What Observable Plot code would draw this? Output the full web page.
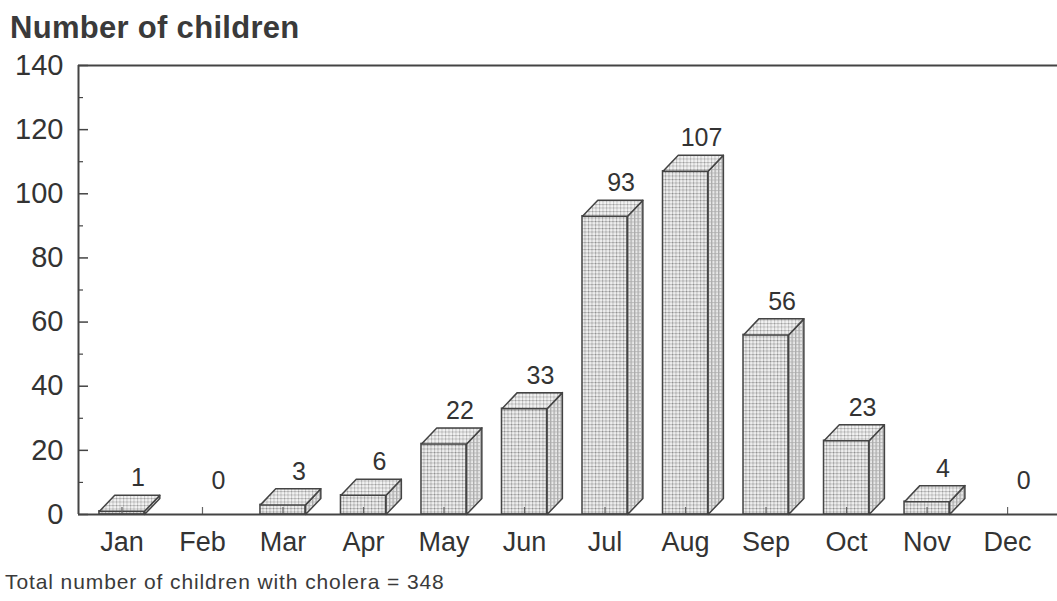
<!DOCTYPE html>
<html><head><meta charset="utf-8">
<script src="https://cdn.jsdelivr.net/npm/d3@7"></script>
<script src="https://cdn.jsdelivr.net/npm/@observablehq/plot@0.6"></script>
<style>
body{margin:0;background:#fff;font-family:"Liberation Sans",Arial,sans-serif;color:#333;}
#title{height:46px;box-sizing:border-box;padding:9px 0 0 10px;font-size:31px;font-weight:bold;line-height:37px;color:#3a3a3a;letter-spacing:0.3px;}
#chart svg{display:block;}
#caption{margin-top:6px;padding-left:5px;font-size:21px;line-height:24px;color:#3a3a3a;letter-spacing:0.9px;}
</style></head><body>
<div id="title">Number of children</div>
<div id="chart"></div>
<div id="caption">Total number of children with cholera = 348</div>
<script>
// ---- data ----
const months = ["Jan","Feb","Mar","Apr","May","Jun","Jul","Aug","Sep","Oct","Nov","Dec"];
const counts = [1, 0, 3, 6, 22, 33, 93, 107, 56, 23, 4, 0];
const yTicks = [0, 20, 40, 60, 80, 100, 120, 140];
const yMinorTicks = [10, 30, 50, 70, 90, 110, 130];
const monthIndex = months.map((m, i) => i);

// ---- geometry (in data units) ----
const halfW = 0.28, depthX = 0.19, depthY = 5;
const bars = months.map((m, i) => ({i, m, v: counts[i]}));
const drawn = bars.filter(d => d.v > 0);
const front = drawn.map(d => ({id: d.m, x1: d.i - halfW, x2: d.i + halfW, y1: 0, y2: d.v}));
const side = [], topFace = [];
for (const d of drawn) {
  const l = d.i - halfW, r = d.i + halfW;
  [[r, 0], [r, d.v], [r + depthX, d.v + depthY], [r + depthX, depthY], [r, 0]]
    .forEach(([x, y]) => side.push({id: d.m, x, y}));
  [[l, d.v], [r, d.v], [r + depthX, d.v + depthY], [l + depthX, d.v + depthY], [l, d.v]]
    .forEach(([x, y]) => topFace.push({id: d.m, x, y}));
}

const ink = "#444";
const svg = Plot.plot({
  width: 1057,
  height: 518,
  marginTop: 19,
  marginBottom: 50,
  marginLeft: 78,
  marginRight: 0,
  style: {fontFamily: '"Liberation Sans", Arial, sans-serif', color: "#333", background: "transparent"},
  x: {type: "linear", domain: [-0.54, 11.62]},
  y: {domain: [0, 140]},
  marks: [
    // axis texts
    Plot.axisY({ticks: yTicks, tickSize: 0, tickPadding: 15, fontSize: 29, label: null}),
    Plot.axisX({ticks: monthIndex, tickFormat: i => months[i], tickSize: 0, tickPadding: 17, fontSize: 27, label: null}),
    // inward ticks
    Plot.axisY({ticks: yTicks, tickSize: -10, text: null, label: null, stroke: ink, strokeWidth: 1.5}),
    Plot.axisY({ticks: yMinorTicks, tickSize: -5, text: null, label: null, stroke: ink, strokeWidth: 1.2}),
    // 3D bars
    Plot.rect(front, {x1: "x1", x2: "x2", y1: "y1", y2: "y2", fill: "url(#dotsFront)", stroke: ink, strokeWidth: 1.5}),
    Plot.line(side, {x: "x", y: "y", z: "id", fill: "url(#dotsSide)", stroke: ink, strokeWidth: 1.5, strokeLinejoin: "round", curve: "linear"}),
    Plot.line(topFace, {x: "x", y: "y", z: "id", fill: "url(#dotsTop)", stroke: ink, strokeWidth: 1.5, strokeLinejoin: "round", curve: "linear"}),
    Plot.axisX({ticks: monthIndex, tickSize: -7, text: null, label: null, stroke: "#666", strokeWidth: 1.2}),
    // value labels
    Plot.text(bars, {x: "i", y: d => d.v + depthY, text: d => String(d.v), dx: 16, dy: -17, fontSize: 25, fill: "#333", lineAnchor: "middle"}),
    // frame lines
    Plot.ruleY([0], {stroke: ink, strokeWidth: 2}),
    Plot.ruleY([140], {stroke: ink, strokeWidth: 2}),
    Plot.ruleX([-0.54], {stroke: ink, strokeWidth: 2})
  ]
});

svg.insertAdjacentHTML("afterbegin", `
<defs>
  <pattern id="dotsFront" width="3.5" height="3.5" patternUnits="userSpaceOnUse">
    <rect width="3.5" height="3.5" fill="#eeeeee"/>
    <rect width="3.5" height="1" fill="#c0c0c0"/>
    <rect width="1" height="3.5" fill="#c0c0c0"/>
    <rect width="1" height="1" fill="#8a8a8a"/>
  </pattern>
  <pattern id="dotsSide" width="3.5" height="3.5" patternUnits="userSpaceOnUse">
    <rect width="3.5" height="3.5" fill="#e8e8e8"/>
    <rect width="3.5" height="1" fill="#bdbdbd"/>
    <rect width="1.3" height="3.5" fill="#ababab"/>
  </pattern>
  <pattern id="dotsTop" width="3.5" height="3.5" patternUnits="userSpaceOnUse">
    <rect width="3.5" height="3.5" fill="#f2f2f2"/>
    <rect width="3.5" height="1" fill="#c4c4c4"/>
    <rect width="1" height="3.5" fill="#c8c8c8"/>
    <rect width="1" height="1" fill="#9a9a9a"/>
  </pattern>
</defs>`);
document.getElementById("chart").appendChild(svg);
</script>
</body></html>
